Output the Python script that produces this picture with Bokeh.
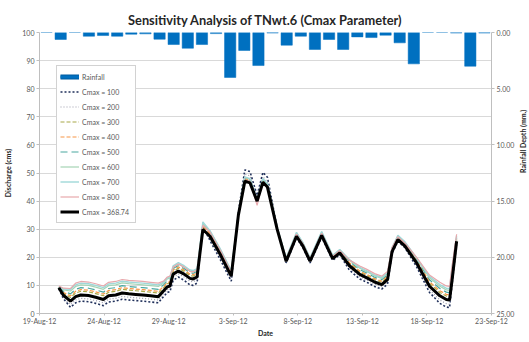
import math
import pandas as pd
from bokeh.plotting import figure
from bokeh.models import (Range1d, LinearAxis, FixedTicker, Legend, LegendItem,
                          NumeralTickFormatter, DatetimeAxis)
from bokeh.embed import file_html
from bokeh.resources import INLINE

title_text = "Sensitivity Analysis of TNwt.6 (Cmax Parameter)"
start_date = "2012-08-19"
x_tick_days = [0, 5, 10, 15, 20, 25, 30, 35]
x_tick_labels = ["19-Aug-12", "24-Aug-12", "29-Aug-12", "3-Sep-12", "8-Sep-12",
                 "13-Sep-12", "18-Sep-12", "23-Sep-12"]
y_ticks = [0, 10, 20, 30, 40, 50, 60, 70, 80, 90, 100]
rain_ticks = [0, 5, 10, 15, 20, 25]

# daily rainfall (mm), one bar per day slot
rain_slots = list(range(32))
rainfall = [0, 0.62, 0, 0.33, 0.27, 0.33, 0.15, 0.12, 0.6, 1.07, 1.4, 1.07, 0.1, 4.0,
            1.6, 2.94, 0.05, 1.13, 0.33, 1.51, 0.62, 1.51, 0.39, 0.45, 0.24, 0.92,
            2.79, 0, 0, 0.05, 3.0, 0.05]

# time of each discharge point, days after 19-Aug-12
t_days = [1.5, 1.85, 2.4, 2.8, 3.2, 3.8, 4.35, 4.95, 5.35, 5.9, 6.4, 6.9, 7.45, 8.0,
          8.6, 9.2, 9.6, 9.9, 10.1, 10.35, 10.75, 11.2, 11.65, 11.9, 12.2, 12.65,
          13.2, 14.0, 14.6, 14.85, 15.4, 15.9, 16.3, 16.85, 17.3, 17.65, 18.4, 19.1,
          19.9, 20.4, 20.95, 21.85, 22.7, 23.25, 24.0, 24.8, 25.35, 25.95, 26.5,
          26.95, 27.3, 27.75, 28.3, 29.2, 30.2, 31.0, 31.5, 31.75, 31.95, 32.3]

q_100 = [8.8, 5.3, 2.2, 3.8, 4.4, 4.2, 3.6, 2.8, 4.1, 4.4, 5.1, 4.8, 4.6, 4.4, 4.1, 3.8,
         6.0, 7.5, 7.8, 11.8, 13.0, 11.8, 10.2, 10.0, 10.8, 30.9, 26.0, 19.2, 13.7, 11.5,
         36.0, 51.1, 50.5, 42.0, 50.2, 48.5, 30.5, 18.0, 26.9, 23.4, 18.0, 27.2, 18.9,
         21.0, 15.4, 12.3, 11.1, 9.6, 8.7, 10.5, 21.4, 25.7, 23.4, 16.6, 7.5, 3.6, 2.3,
         2.1, 10.5, 25.2]
q_200 = [9.0, 5.8, 3.2, 4.8, 5.4, 5.2, 4.6, 3.8, 5.1, 5.4, 6.1, 5.8, 5.6, 5.4, 5.1, 4.8,
         6.8, 8.5, 8.8, 13.0, 14.1, 13.0, 11.5, 11.3, 12.0, 30.4, 26.8, 20.2, 14.7, 12.5,
         35.6, 49.6, 49.0, 41.2, 48.7, 46.8, 30.5, 18.4, 27.3, 23.8, 18.4, 27.6, 19.3,
         21.4, 16.2, 13.1, 11.9, 10.4, 9.5, 11.3, 21.7, 26.0, 23.7, 17.3, 8.5, 4.8, 3.5,
         3.3, 11.0, 25.4]
q_300 = [9.2, 7.2, 5.7, 7.3, 7.9, 7.7, 7.1, 6.3, 7.6, 7.9, 8.6, 8.3, 8.1, 7.9, 7.6, 7.3,
         9.1, 10.6, 10.9, 15.0, 16.1, 15.0, 13.5, 13.3, 14.0, 30.7, 28.1, 21.6, 16.1, 13.9,
         35.2, 47.8, 47.2, 40.2, 47.3, 45.5, 30.3, 19.0, 27.9, 24.4, 19.0, 28.2, 19.9,
         22.0, 17.8, 14.7, 13.5, 12.0, 11.1, 12.9, 22.5, 26.8, 24.5, 18.7, 10.7, 7.5, 6.2,
         6.0, 13.2, 26.2]
q_400 = [9.3, 7.5, 6.3, 7.9, 8.5, 8.3, 7.7, 6.9, 8.2, 8.5, 9.2, 8.9, 8.7, 8.5, 8.2, 7.9,
         9.6, 11.0, 11.3, 15.5, 16.6, 15.5, 14.0, 13.8, 14.5, 31.2, 28.5, 22.0, 16.5, 14.3,
         35.4, 48.1, 47.5, 40.3, 47.5, 45.7, 30.5, 19.2, 28.1, 24.6, 19.2, 28.4, 20.1,
         22.2, 18.1, 15.1, 13.9, 12.4, 11.5, 13.3, 22.8, 27.1, 24.8, 19.0, 11.3, 8.1, 6.8,
         6.6, 14.0, 26.5]
q_500 = [9.4, 7.9, 7.0, 8.6, 9.2, 9.0, 8.4, 7.6, 8.9, 9.2, 9.9, 9.6, 9.4, 9.2, 8.9, 8.6,
         10.2, 11.7, 12.0, 16.0, 17.1, 16.0, 14.5, 14.3, 15.0, 31.7, 29.0, 22.4, 16.9,
         14.7, 35.5, 48.3, 47.7, 40.5, 47.7, 45.9, 30.6, 19.5, 28.4, 24.9, 19.5, 28.7,
         20.4, 22.5, 18.5, 15.6, 14.4, 12.9, 12.0, 13.8, 23.1, 27.4, 25.1, 19.3, 12.0, 8.9,
         7.6, 7.4, 15.0, 26.9]
q_600 = [9.5, 8.4, 8.0, 9.6, 10.2, 10.0, 9.4, 8.6, 9.9, 10.2, 10.9, 10.6, 10.4, 10.2,
         9.9, 9.6, 10.8, 12.3, 12.6, 16.5, 17.6, 16.5, 15.0, 14.8, 15.5, 32.1, 29.3, 22.8,
         17.3, 15.1, 35.6, 48.4, 47.8, 40.5, 47.8, 46.0, 30.7, 19.7, 28.7, 25.1, 19.7,
         29.0, 20.6, 22.7, 18.9, 16.1, 14.9, 13.4, 12.5, 14.3, 23.3, 27.6, 25.3, 19.6,
         12.7, 9.7, 8.4, 8.2, 15.8, 27.2]
q_700 = [9.6, 8.7, 8.6, 10.2, 10.8, 10.6, 10.0, 9.2, 10.5, 10.8, 11.5, 11.2, 11.0, 10.8,
         10.5, 10.2, 11.2, 12.7, 13.0, 17.0, 18.1, 17.0, 15.5, 15.3, 16.0, 32.6, 29.5,
         23.0, 17.5, 15.3, 35.8, 48.6, 48.0, 40.5, 48.0, 46.2, 30.8, 19.8, 28.9, 25.2,
         19.8, 29.2, 20.7, 22.8, 19.2, 16.4, 15.2, 13.7, 12.8, 14.6, 23.5, 27.8, 25.5,
         19.8, 13.2, 10.3, 9.0, 8.8, 16.5, 27.7]
q_800 = [9.8, 9.0, 8.9, 10.8, 11.4, 11.2, 10.6, 9.8, 11.1, 11.4, 12.1, 11.8, 11.6, 11.4,
         11.1, 10.8, 11.5, 13.0, 13.3, 16.5, 17.6, 16.5, 15.0, 14.8, 15.5, 31.4, 29.0,
         22.5, 17.0, 14.8, 35.5, 47.6, 47.0, 38.5, 46.7, 45.2, 30.5, 19.4, 28.3, 24.8,
         19.4, 28.6, 20.3, 22.4, 19.0, 16.9, 15.7, 14.2, 13.3, 15.0, 23.5, 27.3, 25.0,
         20.0, 13.7, 11.1, 9.8, 9.6, 17.0, 28.2]
q_36874 = [9.2, 6.5, 4.4, 6.0, 6.6, 6.4, 5.8, 5.0, 6.3, 6.6, 7.3, 7.0, 6.8, 6.6, 6.3, 6.0,
           8.0, 9.5, 9.8, 14.0, 15.1, 14.0, 12.5, 12.3, 13.0, 29.9, 27.5, 21.0, 15.5, 13.3,
           35.0, 47.1, 46.5, 40.0, 46.7, 45.0, 30.0, 18.6, 27.5, 24.0, 18.6, 27.8, 19.5,
           21.6, 17.0, 13.9, 12.7, 11.2, 10.3, 12.1, 22.0, 26.3, 24.0, 18.0, 9.7, 6.3, 5.0,
           4.8, 12.0, 25.7]

series_labels = ["Cmax = 100", "Cmax = 200", "Cmax = 300", "Cmax = 400", "Cmax = 500",
                 "Cmax = 600", "Cmax = 700", "Cmax = 800", "Cmax = 368.74"]
series_values = [q_100, q_200, q_300, q_400, q_500, q_600, q_700, q_800, q_36874]

FONT = "Lato"
TICK_COLOR = "#595959"
RAIN_COLOR = "#0070c0"

base = pd.Timestamp(start_date)
times = [base + pd.Timedelta(days=d) for d in t_days]
tick_ms = [(base + pd.Timedelta(days=d)).timestamp() * 1000 for d in x_tick_days]

p = figure(frame_width=452, frame_height=281, output_backend="svg", toolbar_location=None,
           x_axis_type=None, y_axis_location=None,
           x_range=Range1d(base, base + pd.Timedelta(days=35)),
           y_range=Range1d(0, 100),
           min_border_left=39, min_border_right=0, min_border_top=32, min_border_bottom=0)
p.title.text = title_text
p.title.align = "center"
p.title.text_font = FONT
p.title.text_font_size = "12.8px"
p.title.text_font_style = "bold"
p.title.text_color = "#262626"
p.outline_line_color = None
p.background_fill_color = "white"
p.border_fill_color = "white"

p.extra_x_ranges = {"rain": Range1d(-0.5, 31.5)}
p.extra_y_ranges = {"rain": Range1d(25, 0)}

# axes
xaxis = DatetimeAxis(ticker=FixedTicker(ticks=tick_ms), axis_label="Date")
xaxis.major_label_overrides = {t: lab for t, lab in zip(tick_ms, x_tick_labels)}
yaxis = LinearAxis(ticker=FixedTicker(ticks=y_ticks), axis_label="Discharge (cms)")
raxis = LinearAxis(y_range_name="rain", ticker=FixedTicker(ticks=rain_ticks),
                   formatter=NumeralTickFormatter(format="0.00"),
                   axis_label="Rainfall Depth (mm.)")
for ax in (xaxis, yaxis, raxis):
    ax.axis_line_color = "#bfbfbf"
    ax.major_tick_line_color = "#bfbfbf"
    ax.major_tick_out = 3
    ax.major_tick_in = 0
    ax.minor_tick_line_color = None
    ax.major_label_text_font = FONT
    ax.major_label_text_font_size = "7px"
    ax.major_label_text_color = TICK_COLOR
    ax.axis_label_text_font = FONT
    ax.axis_label_text_font_size = "7px"
    ax.axis_label_text_font_style = "bold"
    ax.axis_label_text_color = "#262626"
    ax.axis_label_standoff = 3
    ax.major_label_standoff = 2
xaxis.major_tick_out = 2
xaxis.major_label_standoff = 1
xaxis.axis_label_standoff = 1
yaxis.axis_label_standoff = 7
raxis.axis_label_standoff = 6
raxis.axis_label_orientation = math.pi / 2
p.add_layout(xaxis, "below")
p.add_layout(yaxis, "left")
p.add_layout(raxis, "right")

p.ygrid.ticker = FixedTicker(ticks=y_ticks)
p.ygrid.grid_line_color = "#d9d9d9"
p.xgrid.grid_line_color = None

p.vbar(x=rain_slots, top=rainfall, bottom=0, width=0.8,
       x_range_name="rain", y_range_name="rain",
       fill_color=RAIN_COLOR, line_color=RAIN_COLOR, line_width=0.5)
# legend key for the rainfall bars: a single undrawable (NaN) point
rain_key = p.line(x=[base], y=[float("nan")], line_color="#005a9e", line_width=5)
rain_key2 = p.line(x=[base], y=[float("nan")], line_color=RAIN_COLOR, line_width=3)

styles = [
    dict(line_color="#1f2f5a", line_width=1.6, line_dash="2 2"),
    dict(line_color="#9a9aaa", line_width=1.2, line_dash="1 2"),
    dict(line_color="#a8a848", line_width=1.2, line_dash="4 2"),
    dict(line_color="#f79646", line_width=1.2, line_dash="4 2"),
    dict(line_color="#4aa8a0", line_width=1.2, line_dash="7 4"),
    dict(line_color="#a6d4b4", line_width=1.2),
    dict(line_color="#9fd8d8", line_width=1.4),
    dict(line_color="#e8a8ac", line_width=1.2),
    dict(line_color="#000000", line_width=3),
]

items = [LegendItem(label="Rainfall", renderers=[rain_key, rain_key2])]
for lab, vals, st in zip(series_labels, series_values, styles):
    r = p.line(times, vals, **st)
    items.append(LegendItem(label=lab, renderers=[r]))

legend = Legend(items=items, location=(17, 90))
legend.label_text_font = FONT
legend.label_text_font_size = "7px"
legend.label_text_color = TICK_COLOR
legend.glyph_width = 19
legend.glyph_height = 15
legend.label_height = 15
legend.label_width = 50
legend.spacing = 0
legend.padding = 3
legend.margin = 0
legend.label_standoff = 3
legend.border_line_color = "#a6a6a6"
legend.border_line_width = 1
legend.background_fill_alpha = 1
p.add_layout(legend, "center")

open("out.html", "w").write(file_html(p, INLINE))
